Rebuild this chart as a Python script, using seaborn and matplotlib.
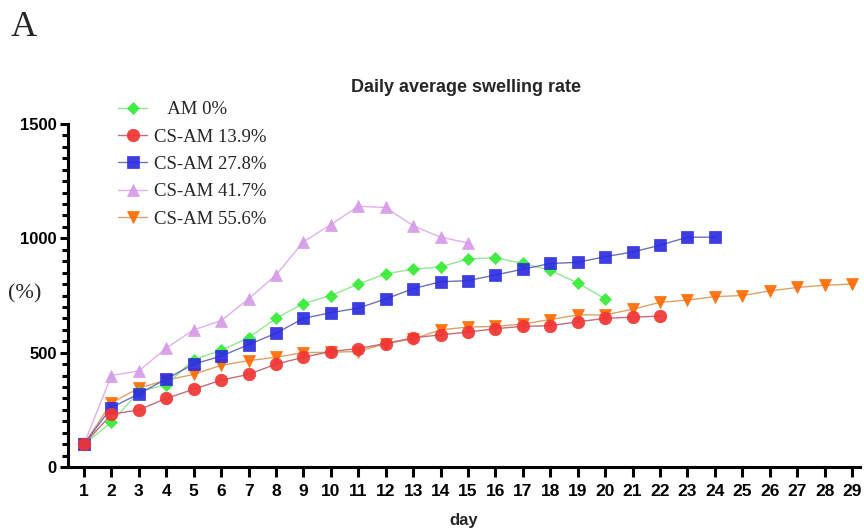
import numpy as np
import pandas as pd
import matplotlib
matplotlib.use("Agg")
import matplotlib.pyplot as plt
from matplotlib.ticker import MultipleLocator, FixedLocator
import seaborn as sns

# ---------------- data ----------------
series_names = ["   AM 0%", "CS-AM 13.9%", "CS-AM 27.8%", "CS-AM 41.7%", "CS-AM 55.6%"]

am_0 = [100, 195, 330, 360, 470, 510, 565, 650, 715, 750, 800, 845, 865, 875, 910,
        915, 890, 860, 805, 735]
cs_am_13_9 = [100, 230, 250, 300, 340, 380, 405, 450, 480, 505, 518, 540, 565, 578,
              590, 605, 615, 618, 635, 650, 655, 660]
cs_am_27_8 = [100, 260, 320, 385, 450, 485, 535, 585, 650, 675, 695, 735, 780, 810,
              815, 840, 865, 890, 895, 920, 940, 970, 1005, 1005]
cs_am_41_7 = [100, 400, 420, 520, 600, 640, 735, 840, 985, 1060, 1140, 1135, 1055,
              1005, 980]
cs_am_55_6 = [100, 280, 345, 380, 405, 445, 465, 480, 500, 502, 505, 540, 560, 600,
              612, 615, 625, 645, 665, 665, 690, 720, 730, 745, 750, 770, 785, 795, 800]

all_values = [am_0, cs_am_13_9, cs_am_27_8, cs_am_41_7, cs_am_55_6]
day_ticks = list(range(1, 30))

frames = []
for name, vals in zip(series_names, all_values):
    frames.append(pd.DataFrame({"day": np.arange(1, len(vals) + 1),
                                "rate": vals, "series": name}))
df = pd.concat(frames, ignore_index=True)

# ---------------- style ----------------
sns.set_style("ticks")
plt.rcParams["font.family"] = ["Liberation Sans", "DejaVu Sans"]

marker_colors = ["#35ec35", "#f23434", "#2c2ce0", "#d79ae8", "#ff6a00"]
line_colors = ["#8ae48a", "#c0606e", "#6464b0", "#dcaaea", "#d89a5a"]
markers = ["D", "o", "s", "^", "v"]
msizes = [5.8, 9, 9, 9, 9]
draw_order = [4, 3, 0, 2, 1]

fig = plt.figure(figsize=(8.64, 5.28), dpi=100)
ax = fig.add_axes([68 / 864, 1 - 467 / 528, (860 - 68) / 864, (467 - 124) / 528])

handles = {}
for i in draw_order:
    name = series_names[i]
    sub = df[df["series"] == name]
    sns.lineplot(data=sub, x="day", y="rate", ax=ax, color=line_colors[i],
                 linewidth=1.0, marker=markers[i], markersize=msizes[i],
                 markerfacecolor=marker_colors[i], markeredgecolor=marker_colors[i],
                 markeredgewidth=0.5, alpha=0.92, errorbar=None, label=name)
    handles[i] = ax.get_lines()[-1]

ax.set_xlim(0.417, 29.29)
ax.set_ylim(0, 1500)
ax.xaxis.set_major_locator(FixedLocator(day_ticks))
ax.set_xticks(day_ticks)
ax.set_xticklabels([str(d) for d in day_ticks])
ax.yaxis.set_major_locator(MultipleLocator(500))
ax.yaxis.set_minor_locator(MultipleLocator(50))

for s in ["top", "right"]:
    ax.spines[s].set_visible(False)
for s in ["left", "bottom"]:
    ax.spines[s].set_linewidth(2.2)
    ax.spines[s].set_color("black")

ax.tick_params(axis="y", which="major", direction="out", length=6, width=2.2,
               pad=2, labelsize=12, colors="black")
ax.tick_params(axis="y", which="minor", direction="out", length=4, width=2.2,
               colors="black")
ax.tick_params(axis="x", which="major", direction="out", length=7, width=2.2,
               pad=5, labelsize=12.5, colors="black")

for lab in ax.get_yticklabels():
    lab.set_fontweight("bold")
for lab in ax.get_xticklabels():
    lab.set_fontweight("bold")

ax.set_xlabel("")
ax.set_ylabel("")
fig.text(464 / 864, 1 - 520 / 528, "day", ha="center", va="center",
         fontsize=12, fontweight="bold")

leg_handles = [handles[i] for i in range(5)]
leg = ax.legend(leg_handles, series_names, loc="upper left",
                bbox_to_anchor=(118 / 864, 1 - 101 / 528), bbox_transform=fig.transFigure,
                frameon=False, prop={"family": ["Liberation Serif", "DejaVu Serif"], "size": 13.5},
                handlelength=1.55, handletextpad=0.35, labelspacing=0.55,
                borderpad=0, borderaxespad=0)

fig.text(466 / 864, 1 - 88 / 528, "Daily average swelling rate", ha="center", va="center",
         fontsize=13, fontweight="bold", family=["Liberation Sans", "DejaVu Sans"])
fig.text(11 / 864, 1 - 27 / 528, "A", ha="left", va="center", fontsize=26,
         family=["Liberation Serif", "DejaVu Serif"])
fig.text(25 / 864, 1 - 294 / 528, "(%)", ha="center", va="center", fontsize=16,
         family=["Liberation Serif", "DejaVu Serif"])

fig.savefig("out.png", dpi=100)
